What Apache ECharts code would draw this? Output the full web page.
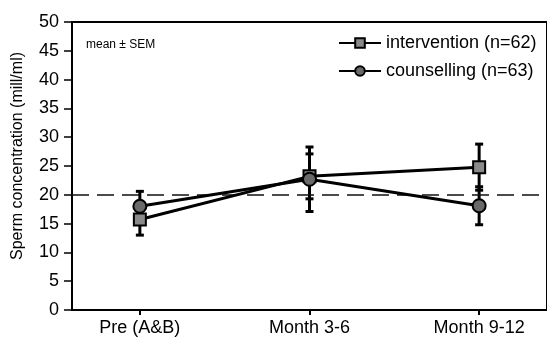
<!DOCTYPE html>
<html>
<head>
<meta charset="utf-8">
<script src="https://cdn.jsdelivr.net/npm/echarts@6/dist/echarts.min.js"></script>
<style>html,body{margin:0;padding:0;background:#fff}#c{width:547px;height:343px}</style>
</head>
<body>
<div id="c"></div>
<script>
var categories = ['Pre (A&B)', 'Month 3-6', 'Month 9-12'];
var xPositions = [1, 2, 3];
var interventionMean = [15.7, 23.2, 24.8];
var interventionSEM = [2.7, 3.9, 4.0];
var counsellingMean = [18.0, 22.7, 18.1];
var counsellingSEM = [2.6, 5.6, 3.3];
var referenceLine = 20;
var yTicks = [0, 5, 10, 15, 20, 25, 30, 35, 40, 45, 50];
var yTitle = 'Sperm concentration (mill/ml)';

var FONT = 'Liberation Sans, Arial, sans-serif';

function pairs(means) {
  return xPositions.map(function (x, i) { return [x, means[i]]; });
}
function errData(means, sems) {
  return xPositions.map(function (x, i) { return [x, means[i] - sems[i], means[i] + sems[i]]; });
}
function renderErr(params, api) {
  var x = api.value(0);
  var lo = api.coord([x, api.value(1)]);
  var hi = api.coord([x, api.value(2)]);
  var hw = 4;
  var st = { stroke: '#000', lineWidth: 3 };
  return {
    type: 'group',
    children: [
      { type: 'line', shape: { x1: lo[0], y1: lo[1], x2: hi[0], y2: hi[1] }, style: st },
      { type: 'line', shape: { x1: lo[0] - hw, y1: lo[1], x2: lo[0] + hw, y2: lo[1] }, style: st },
      { type: 'line', shape: { x1: hi[0] - hw, y1: hi[1], x2: hi[0] + hw, y2: hi[1] }, style: st }
    ]
  };
}

var chart = echarts.init(document.getElementById('c'));
chart.setOption({
  animation: false,
  backgroundColor: '#fff',
  grid: { left: 72, top: 22, bottom: 33, right: -2, show: true, borderColor: '#000', borderWidth: 2, backgroundColor: 'transparent' },
  xAxis: {
    type: 'value', min: 0.6, max: 3.4,
    axisLine: { lineStyle: { color: '#000', width: 2 } },
    axisTick: { show: true, customValues: xPositions, length: 5, lineStyle: { color: '#000', width: 2 } },
    axisLabel: {
      customValues: xPositions, margin: 9, color: '#000', fontSize: 18, fontFamily: FONT,
      formatter: function (v) { var i = xPositions.indexOf(Math.round(v)); return i >= 0 ? categories[i] : ''; }
    },
    splitLine: { show: false }
  },
  yAxis: {
    type: 'value', min: 0, max: 50, interval: 5,
    axisLine: { show: true, lineStyle: { color: '#000', width: 2 } },
    axisTick: { show: true, length: 8, lineStyle: { color: '#000', width: 1.5 } },
    axisLabel: { color: '#000', fontSize: 18, fontFamily: FONT, margin: 13 },
    splitLine: { show: false }
  },
  legend: {
    left: 333, top: 29, orient: 'vertical', itemGap: 10,
    itemWidth: 42, itemHeight: 12,
    textStyle: { color: '#000', fontSize: 18, fontFamily: FONT, lineHeight: 18 },
    data: ['intervention (n=62)', 'counselling (n=63)']
  },
  graphic: [
    { type: 'text', left: 86, top: 39, style: { text: 'mean \u00b1 SEM', fontSize: 12, fontFamily: FONT, fill: '#000' } },
    { type: 'text', x: 18, y: 156, rotation: Math.PI / 2,
      style: { text: yTitle, fontSize: 16, fontFamily: FONT, fill: '#000', align: 'center', verticalAlign: 'middle' } }
  ],
  series: [
    {
      type: 'custom', name: 'errI', renderItem: renderErr, data: errData(interventionMean, interventionSEM),
      encode: { x: 0, y: [1, 2] }, z: 2, silent: true,
      markLine: {
        silent: true, symbol: ['none', 'none'], label: { show: false },
        lineStyle: { color: '#111', width: 1.6, type: [17, 8] },
        data: [{ yAxis: referenceLine }]
      }
    },
    {
      type: 'custom', name: 'errC', renderItem: renderErr, data: errData(counsellingMean, counsellingSEM),
      encode: { x: 0, y: [1, 2] }, z: 2, silent: true
    },
    {
      type: 'line', name: 'intervention (n=62)', data: pairs(interventionMean), z: 5,
      symbol: 'rect', symbolSize: 12,
      lineStyle: { color: '#000', width: 3 },
      itemStyle: { color: '#8a8a8a', borderColor: '#000', borderWidth: 2 }
    },
    {
      type: 'line', name: 'counselling (n=63)', data: pairs(counsellingMean), z: 5,
      symbol: 'circle', symbolSize: 13,
      lineStyle: { color: '#000', width: 3 },
      itemStyle: { color: '#6a6a6a', borderColor: '#000', borderWidth: 2 }
    }
  ]
});
</script>
</body>
</html>
